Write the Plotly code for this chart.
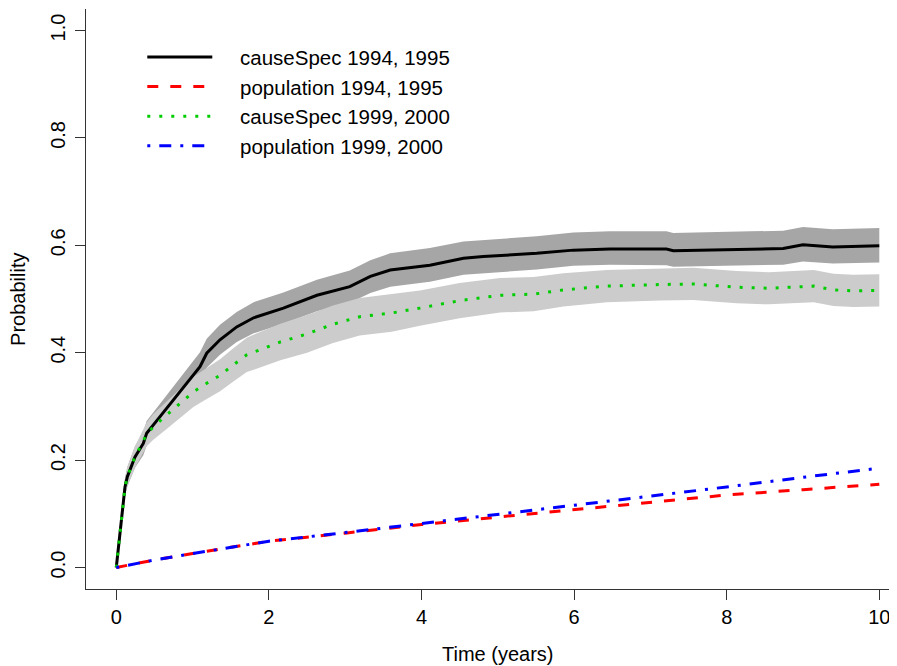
import plotly.graph_objects as go

# ---- data ----
cs94_t = [0, 0.02, 0.05, 0.083, 0.114, 0.145, 0.245, 0.354, 0.398, 0.573, 0.747, 0.966,
          1.097, 1.185, 1.359, 1.578, 1.80, 2.19, 2.63, 3.06, 3.33, 3.59, 4.11, 4.55,
          4.81, 5.51, 5.99, 6.47, 7.21, 7.30, 8.31, 8.74, 9.00, 9.39, 10.0]
cs94_p = [0, 0.025, 0.063, 0.113, 0.150, 0.169, 0.206, 0.231, 0.250, 0.281, 0.312, 0.349,
          0.374, 0.399, 0.424, 0.448, 0.465, 0.483, 0.507, 0.523, 0.542, 0.554, 0.563, 0.576,
          0.579, 0.585, 0.591, 0.593, 0.593, 0.590, 0.593, 0.594, 0.601, 0.597, 0.599]
cs94_lo = [0, 0.018, 0.053, 0.100, 0.134, 0.151, 0.186, 0.209, 0.227, 0.257, 0.287, 0.323,
           0.347, 0.372, 0.396, 0.420, 0.436, 0.454, 0.477, 0.493, 0.511, 0.523, 0.532, 0.545,
           0.548, 0.555, 0.562, 0.564, 0.563, 0.560, 0.563, 0.564, 0.570, 0.566, 0.568]
cs94_hi = [0, 0.032, 0.073, 0.126, 0.166, 0.187, 0.226, 0.253, 0.273, 0.305, 0.337, 0.375,
           0.401, 0.426, 0.452, 0.476, 0.494, 0.512, 0.536, 0.553, 0.572, 0.585, 0.595, 0.607,
           0.610, 0.617, 0.624, 0.626, 0.626, 0.623, 0.626, 0.627, 0.634, 0.630, 0.632]

cs99_t = [0, 0.02, 0.05, 0.083, 0.114, 0.145, 0.245, 0.398, 0.485, 0.66, 0.81, 1.01,
          1.185, 1.36, 1.53, 1.71, 1.82, 2.15, 2.50, 2.84, 3.19, 3.61, 3.98, 4.50,
          5.03, 5.47, 5.86, 6.43, 7.13, 7.56, 8.13, 8.55, 9.14, 9.40, 9.66, 10.0]
cs99_p = [0, 0.025, 0.063, 0.113, 0.150, 0.169, 0.206, 0.248, 0.262, 0.284, 0.302, 0.327,
          0.343, 0.358, 0.377, 0.396, 0.402, 0.420, 0.435, 0.453, 0.467, 0.474, 0.483, 0.497,
          0.507, 0.509, 0.517, 0.524, 0.527, 0.528, 0.522, 0.520, 0.524, 0.517, 0.515, 0.516]
cs99_lo = [0, 0.018, 0.053, 0.100, 0.134, 0.151, 0.186, 0.226, 0.238, 0.258, 0.275, 0.299,
           0.314, 0.328, 0.346, 0.364, 0.369, 0.386, 0.400, 0.418, 0.432, 0.439, 0.450, 0.464,
           0.475, 0.477, 0.486, 0.494, 0.497, 0.498, 0.492, 0.490, 0.494, 0.487, 0.485, 0.486]
cs99_hi = [0, 0.032, 0.073, 0.126, 0.166, 0.187, 0.226, 0.270, 0.286, 0.310, 0.329, 0.355,
           0.372, 0.388, 0.408, 0.428, 0.435, 0.454, 0.470, 0.488, 0.502, 0.509, 0.516, 0.530,
           0.539, 0.541, 0.548, 0.554, 0.557, 0.558, 0.552, 0.550, 0.554, 0.547, 0.545, 0.546]

pop_t = [0, 0.5, 1, 2, 3, 4, 5, 6, 7, 8, 9, 10]
pop94_p = [0, 0.014, 0.026, 0.049, 0.064, 0.080, 0.094, 0.108, 0.121, 0.135, 0.145, 0.155]
pop99_p = [0, 0.014, 0.026, 0.049, 0.065, 0.082, 0.099, 0.115, 0.133, 0.150, 0.168, 0.185]

legend_labels = ["causeSpec 1994, 1995", "population 1994, 1995",
                 "causeSpec 1999, 2000", "population 1999, 2000"]

FONT = "Liberation Sans, Arial, Helvetica, sans-serif"
PAD = "\u00a0" * 4  # gap between legend sample line and its label

fig = go.Figure()

# confidence bands
fig.add_trace(go.Scatter(x=cs94_t, y=cs94_lo, mode="lines", line=dict(width=0),
                         showlegend=False, hoverinfo="skip"))
fig.add_trace(go.Scatter(x=cs94_t, y=cs94_hi, mode="lines", line=dict(width=0),
                         fill="tonexty", fillcolor="#A6A6A6", showlegend=False, hoverinfo="skip"))
fig.add_trace(go.Scatter(x=cs99_t, y=cs99_lo, mode="lines", line=dict(width=0),
                         showlegend=False, hoverinfo="skip"))
fig.add_trace(go.Scatter(x=cs99_t, y=cs99_hi, mode="lines", line=dict(width=0),
                         fill="tonexty", fillcolor="#CCCCCC", showlegend=False, hoverinfo="skip"))

# curves
fig.add_trace(go.Scatter(x=cs94_t, y=cs94_p, mode="lines", name=PAD + legend_labels[0],
                         line=dict(color="black", width=3)))
fig.add_trace(go.Scatter(x=pop_t, y=pop94_p, mode="lines", name=PAD + legend_labels[1],
                         line=dict(color="#FF0000", width=3, dash="11px,12px")))
fig.add_trace(go.Scatter(x=cs99_t, y=cs99_p, mode="lines", name=PAD + legend_labels[2],
                         line=dict(color="#00CD00", width=3, dash="3px,9px")))
fig.add_trace(go.Scatter(x=pop_t, y=pop99_p, mode="lines", name=PAD + legend_labels[3],
                         line=dict(color="#0000FF", width=3, dash="3px,9px,12px,9px")))

axis_common = dict(showgrid=False, zeroline=False, showline=True, linecolor="#333333",
                   linewidth=1.2, ticks="outside", ticklen=10, tickcolor="#333333",
                   tickwidth=1.2, automargin=False,
                   tickfont=dict(family=FONT, size=20, color="black"))

# the page body adds an 8 px offset, so the figure is 8 px smaller on each axis
fig.update_layout(
    width=889, height=658,
    margin=dict(l=78, r=0, t=1, b=77, autoexpand=False),
    paper_bgcolor="white", plot_bgcolor="white",
    font=dict(family=FONT, size=20, color="black"),
    showlegend=True,
    legend=dict(x=0.0694, y=0.9516, xanchor="left", yanchor="top",
                traceorder="normal",
                bgcolor="rgba(0,0,0,0)", borderwidth=0,
                font=dict(family=FONT, size=20.5, color="black"),
                itemwidth=65),
    xaxis=dict(range=[-0.397, 10.232], tickvals=[0, 2, 4, 6, 8, 10],
               ticktext=["0", "2", "4", "6", "8", "10"], ticklabelstandoff=0, **axis_common),
    yaxis=dict(range=[-0.04, 1.04], tickvals=[0, 0.2, 0.4, 0.6, 0.8, 1.0],
               ticktext=["0.0", "0.2", "0.4", "0.6", "0.8", "1.0"], tickangle=-90,
               ticklabelstandoff=2, **axis_common),
    annotations=[
        dict(text="Time (years)", xref="paper", yref="paper", x=0.5074, y=-0.112,
             xanchor="center", yanchor="middle", showarrow=False,
             font=dict(family=FONT, size=20, color="black")),
        dict(text="Probability", xref="paper", yref="paper", x=-0.084, y=0.5,
             xanchor="center", yanchor="middle", showarrow=False, textangle=-90,
             font=dict(family=FONT, size=20, color="black")),
    ],
)

fig.write_html("out.html")
